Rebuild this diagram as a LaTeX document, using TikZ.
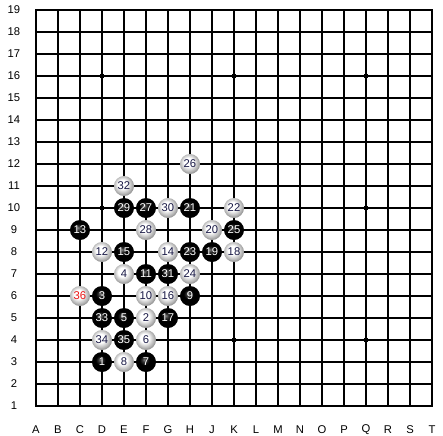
\documentclass[tikz,border=0pt]{standalone}
\usepackage{fontspec}
\setmainfont{Liberation Sans}
\usepackage{xcolor}
\usetikzlibrary{calc, positioning}

\definecolor{numblue}{RGB}{25,25,70}
\definecolor{numred}{RGB}{235,20,20}
\pgfdeclareradialshading{blackstone}{\pgfpoint{-5bp}{6bp}}{color(0bp)=(black!50); color(5bp)=(black!80); color(12bp)=(black); color(50bp)=(black)}
\pgfdeclareradialshading{whitestone}{\pgfpoint{-5bp}{6bp}}{color(0bp)=(white); color(11bp)=(white); color(22bp)=(black!28); color(29bp)=(black!50); color(50bp)=(black!50)}

\begin{document}
\begin{tikzpicture}[>=latex, x=0.55cm, y=0.55cm,
    bstone/.style={circle, inner sep=0pt, minimum size=0.91*0.55cm, shading=blackstone,
        text=white, font=\fontsize{8}{9}\selectfont},
    wstone/.style={circle, inner sep=0pt, minimum size=0.91*0.55cm, shading=whitestone,
        text=numblue, font=\fontsize{8}{9}\selectfont},
    coordlabel/.style={inner sep=0pt, font=\fontsize{8}{9}\selectfont, text=black}]
    \fill[white] (-0.636,-0.318) rectangle (19.5,19.455);
    \useasboundingbox (-0.636,-0.318) rectangle (19.5,19.455);

    % 1. Lưới bàn cờ
    \foreach \i in {2,...,18} {
        \draw[line width=0.75pt] (\i,1) -- (\i,19);
        \draw[line width=0.75pt] (1,\i) -- (19,\i);
    }
    \draw[line width=2pt] (1,1) rectangle (19,19);

    % 2. Điểm sao
    \foreach \x in {4,10,16} {
        \foreach \y in {4,10,16} {
            \fill (\x-0.11,\y-0.11) rectangle (\x+0.11,\y+0.11);
        }
    }

    % 3. Tọa độ
    \foreach \r in {1,...,19} {
        \node[coordlabel] (row\r) at (0,\r) {\r};
    }
    \foreach \l [count=\i] in {A,B,C,D,E,F,G,H,J,K,L,M,N,O,P,Q,R,S,T} {
        \node[coordlabel] (col\l) at (\i,-0.09) {\l};
    }

    % 4. Quân đen
    \foreach \n/\c/\r in {1/4/3, 3/4/6, 5/5/5, 7/6/3, 9/8/6, 11/6/7, 13/3/9, 15/5/8,
        17/7/5, 19/9/8, 21/8/10, 23/8/8, 25/10/9, 27/6/10, 29/5/10, 31/7/7, 33/4/5, 35/5/4} {
        \node[bstone] (s\n) at (\c,\r) {\n};
    }

    % 5. Quân trắng
    \foreach \n/\c/\r in {2/6/5, 4/5/7, 6/6/4, 8/5/3, 10/6/6, 12/4/8, 14/7/8, 16/7/6,
        18/10/8, 20/9/9, 22/10/10, 24/8/7, 26/8/12, 28/6/9, 30/7/10, 32/5/11, 34/4/4} {
        \node[wstone] (s\n) at (\c,\r) {\n};
    }
    \node[wstone, text=numred] (s36) at (3,6) {36};
\end{tikzpicture}
\end{document}
